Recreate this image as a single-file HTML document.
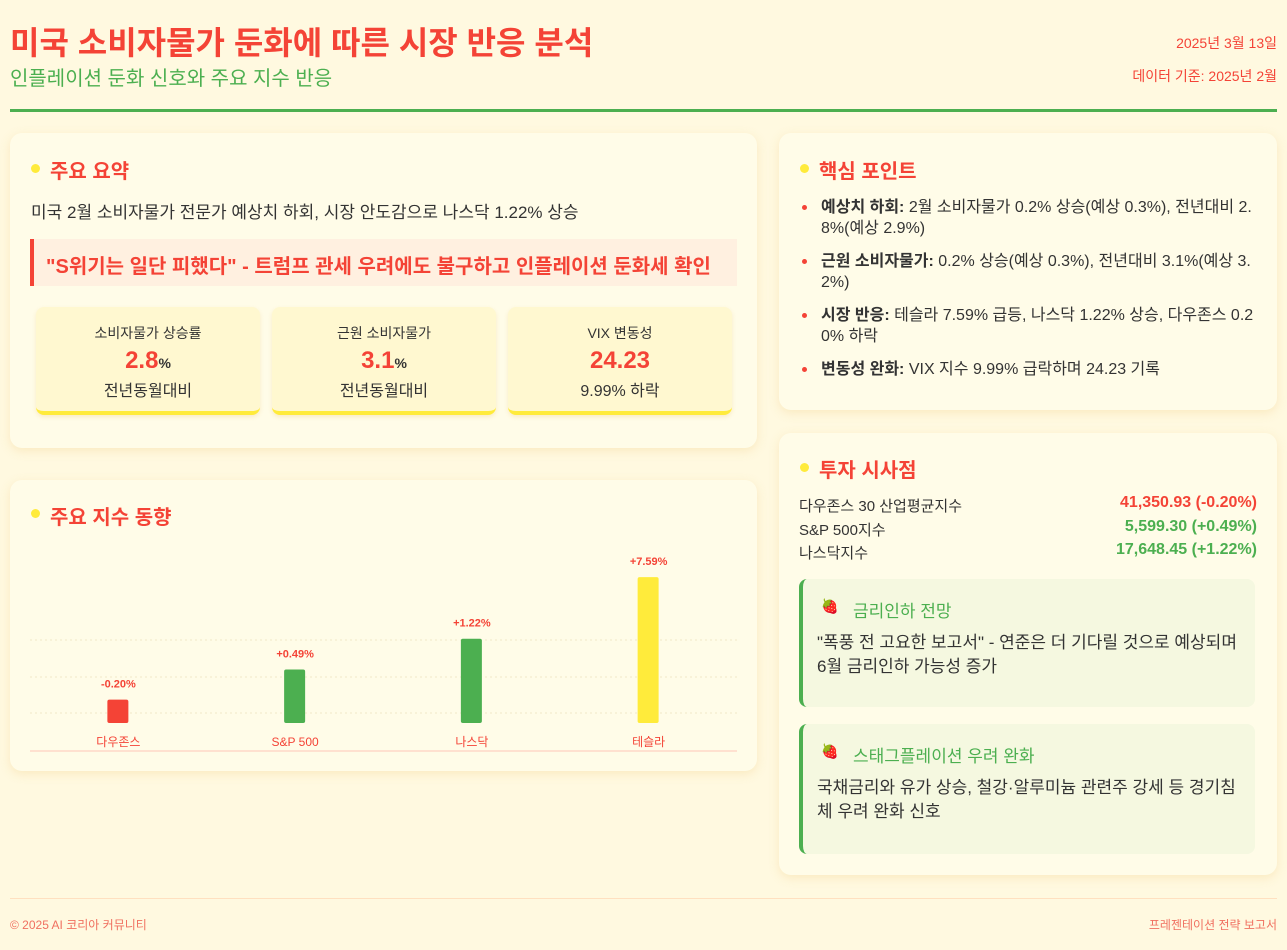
<!DOCTYPE html>
<html><head><meta charset="utf-8">
<style>
*{margin:0;padding:0;box-sizing:border-box}
body{width:1287px;height:950px;background:#fff9e0;font-family:"Liberation Sans","Noto Sans CJK KR",sans-serif;position:relative;overflow:hidden;color:#333}
.abs{position:absolute}
.card{position:absolute;background:#fffce8;border-radius:12px;box-shadow:0 3px 10px rgba(240,200,120,0.3)}
.h{position:absolute;font-size:20px;font-weight:bold;color:#f44336}
.dot{position:absolute;width:9px;height:9px;border-radius:50%;background:#ffeb3b}
.stat{position:absolute;top:174px;width:224px;height:108px;background:#fff8d0;border-radius:8px;border-bottom:4px solid #ffeb3b;text-align:center;box-shadow:0 2px 4px rgba(240,200,120,0.3)}
.stat .l{font-size:14px;margin-top:16px;color:#333}
.stat .v{font-size:24px;font-weight:bold;color:#f44336;margin-top:4px}
.stat .v small{font-size:14px;color:#333}
.stat .s{font-size:16px;color:#333;margin-top:2px}
.kp{position:absolute;left:42px;width:442px;font-size:16px;line-height:21px;color:#333;word-break:break-all}
.kp:before{content:"";position:absolute;left:-19px;top:8px;width:5px;height:5px;border-radius:50%;background:#f44336}
.row{position:absolute;left:20px;width:458px;font-size:15px;height:20px}
.row span{position:absolute;right:0;font-weight:bold;font-size:16px}
.box{position:absolute;left:20px;width:456px;background:#f5f8e0;border-left:4px solid #4caf50;border-radius:8px}
.box .t{position:absolute;left:50px;top:18px;font-size:17px;color:#4caf50}
.box .ic{position:absolute;left:18px;top:19px;font-size:14px}
.box .p{position:absolute;left:14px;top:52px;font-size:17px;line-height:24px;width:424px;color:#333;word-break:break-all}
</style></head><body>
<div class="abs" style="left:10px;top:18px;font-size:32px;font-weight:bold;color:#f44336">미국 소비자물가 둔화에 따른 시장 반응 분석</div>
<div class="abs" style="left:10px;top:62px;font-size:20px;color:#4caf50">인플레이션 둔화 신호와 주요 지수 반응</div>
<div class="abs" style="right:10px;top:33px;font-size:14px;color:#f44336">2025년 3월 13일</div>
<div class="abs" style="right:10px;top:66px;font-size:14px;color:#f44336">데이터 기준: 2025년 2월</div>
<div class="abs" style="left:10px;top:109px;width:1267px;height:3px;background:#4caf50"></div>

<div class="card" style="left:10px;top:133px;width:747px;height:315px">
 <div class="dot" style="left:21px;top:31px"></div>
 <div class="h" style="left:40px;top:22px">주요 요약</div>
 <div class="abs" style="left:21px;top:65px;font-size:17px">미국 2월 소비자물가 전문가 예상치 하회, 시장 안도감으로 나스닥 1.22% 상승</div>
 <div class="abs" style="left:20px;top:106px;width:707px;height:47px;background:#fff0e0;border-left:4px solid #f44336;font-size:20px;font-weight:bold;color:#f44336;padding:11px 0 0 12px;white-space:nowrap">"S위기는 일단 피했다" - 트럼프 관세 우려에도 불구하고 인플레이션 둔화세 확인</div>
 <div class="stat" style="left:26px"><div class="l">소비자물가 상승률</div><div class="v">2.8<small>%</small></div><div class="s">전년동월대비</div></div>
 <div class="stat" style="left:262px"><div class="l">근원 소비자물가</div><div class="v">3.1<small>%</small></div><div class="s">전년동월대비</div></div>
 <div class="stat" style="left:498px"><div class="l">VIX 변동성</div><div class="v">24.23</div><div class="s">9.99% 하락</div></div>
</div>

<div class="card" style="left:10px;top:480px;width:747px;height:291px">
 <div class="dot" style="left:21px;top:29px"></div>
 <div class="h" style="left:40px;top:21px">주요 지수 동향</div>
 <svg id="chart" class="abs" style="left:0;top:0" width="747" height="291"></svg>
</div>

<div class="card" style="left:779px;top:133px;width:498px;height:277px">
 <div class="dot" style="left:21px;top:31px"></div>
 <div class="h" style="left:40px;top:22px">핵심 포인트</div>
 <div class="kp" style="top:64px"><b>예상치 하회:</b> 2월 소비자물가 0.2% 상승(예상 0.3%), 전년대비 2.8%(예상 2.9%)</div>
 <div class="kp" style="top:118px"><b>근원 소비자물가:</b> 0.2% 상승(예상 0.3%), 전년대비 3.1%(예상 3.2%)</div>
 <div class="kp" style="top:172px"><b>시장 반응:</b> 테슬라 7.59% 급등, 나스닥 1.22% 상승, 다우존스 0.20% 하락</div>
 <div class="kp" style="top:226px"><b>변동성 완화:</b> VIX 지수 9.99% 급락하며 24.23 기록</div>
</div>

<div class="card" style="left:779px;top:433px;width:498px;height:442px">
 <div class="dot" style="left:21px;top:30px"></div>
 <div class="h" style="left:40px;top:21px">투자 시사점</div>
 <div class="row" style="top:62px">다우존스 30 산업평균지수<span style="color:#f44336;top:-1px">41,350.93 (-0.20%)</span></div>
 <div class="row" style="top:86px">S&amp;P 500지수<span style="color:#4caf50;top:-1px">5,599.30 (+0.49%)</span></div>
 <div class="row" style="top:109px">나스닥지수<span style="color:#4caf50;top:-1px">17,648.45 (+1.22%)</span></div>
 <div class="box" style="top:146px;height:128px"><div class="ic">🍓</div><div class="t">금리인하 전망</div><div class="p">"폭풍 전 고요한 보고서" - 연준은 더 기다릴 것으로 예상되며 6월 금리인하 가능성 증가</div></div>
 <div class="box" style="top:291px;height:130px"><div class="ic">🍓</div><div class="t">스태그플레이션 우려 완화</div><div class="p">국채금리와 유가 상승, 철강·알루미늄 관련주 강세 등 경기침체 우려 완화 신호</div></div>
</div>

<div class="abs" style="left:10px;top:898px;width:1267px;height:1px;background:#ffe0c0"></div>
<div class="abs" style="left:10px;top:916px;font-size:12px;color:#f07060">© 2025 AI 코리아 커뮤니티</div>
<div class="abs" style="right:10px;top:916px;font-size:12px;color:#f07060">프레젠테이션 전략 보고서</div>

<script>
const categories=["다우존스","S&P 500","나스닥","테슬라"];
const changes=[-0.20,0.49,1.22,7.59];
const valueLabels=["-0.20%","+0.49%","+1.22%","+7.59%"];
const svg=document.getElementById('chart');
const NS="http://www.w3.org/2000/svg";
const baseY=243, left=20, right=727;
function xPos(i){return left+(right-left)*(i+0.5)/categories.length;}
function hScale(v){return Math.max(4,33.7*Math.log(Math.abs(v)/0.1));}
function mk(tag,attrs){const e=document.createElementNS(NS,tag);for(const k in attrs)e.setAttribute(k,attrs[k]);svg.appendChild(e);return e;}
[160,197,233].forEach(y=>{const g=mk('line',{x1:left,x2:right,y1:y,y2:y,stroke:'#f0e8c8','stroke-dasharray':'2,3'});

});
const ax=mk('line',{x1:left,x2:right,y1:271,y2:271,stroke:'#ffd8c8','stroke-width':1.5});


categories.forEach((c,i)=>{
 const h=hScale(changes[i]);const x=xPos(i);
 const col=changes[i]<0?'#f44336':(i===3?'#ffeb3b':'#4caf50');
 const r=mk('rect',{x:x-11,y:baseY-h,width:21,height:h,rx:2,fill:col});
 
 
 const t=mk('text',{x:x,y:baseY-h-12,'text-anchor':'middle','font-size':11,'font-weight':'bold',fill:'#f44336'});
 t.textContent=valueLabels[i];
 
 
 const l=mk('text',{x:x,y:266,'text-anchor':'middle','font-size':12,fill:'#f44336'});
 l.textContent=c;
 
 
});
</script>
</body></html>
